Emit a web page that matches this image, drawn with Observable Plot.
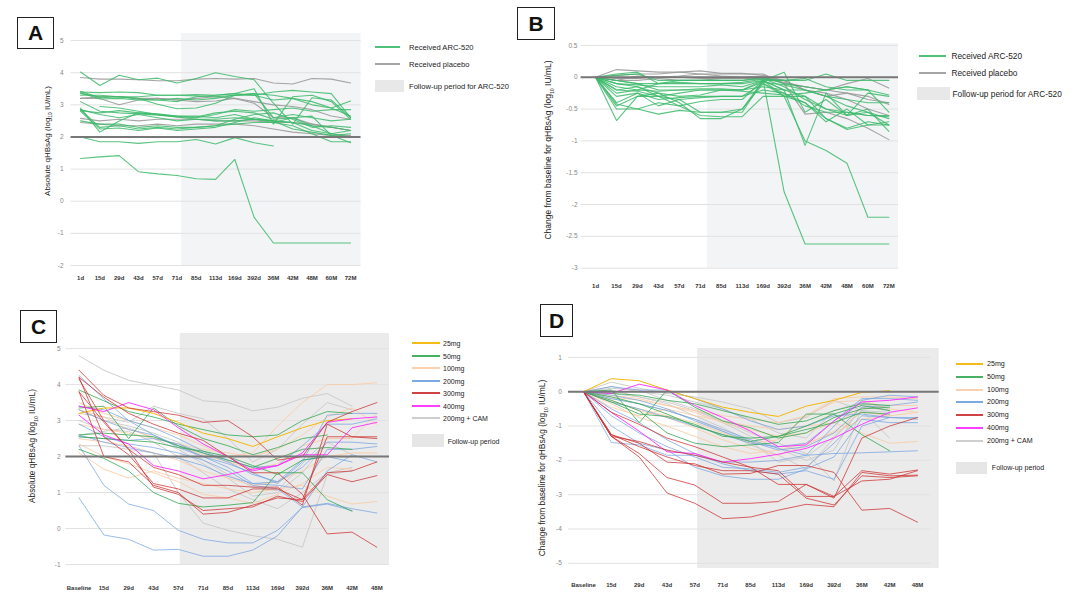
<!DOCTYPE html>
<html><head><meta charset="utf-8">
<script src="https://cdn.jsdelivr.net/npm/d3@7"></script>
<script src="https://cdn.jsdelivr.net/npm/@observablehq/plot@0.6"></script>
<style>
body{margin:0;background:#fff;font-family:"Liberation Sans",Arial,sans-serif;}
#root{position:relative;width:1080px;height:601px;overflow:hidden;background:#fff;}
.lbl{position:absolute;border:1.5px solid #222;font-weight:bold;font-size:21px;display:flex;align-items:center;justify-content:center;box-sizing:border-box;color:#111;}
.ytitle{position:absolute;transform:translate(-50%,-50%) rotate(-90deg);white-space:nowrap;color:#222;}
.ytitle sub{font-size:0.6em;}
.leg{position:absolute;white-space:nowrap;color:#222;transform:translateY(-50%);}
.legline{position:absolute;height:2px;}
.legbox{position:absolute;}
</style></head><body><div id="root"></div><script>
// ---------- categories / tick labels ----------
const timesAB = ["1d","15d","29d","43d","57d","71d","85d","113d","169d","392d","36M","42M","48M","60M","72M"];
const timesCD = ["Baseline","15d","29d","43d","57d","71d","85d","113d","169d","392d","36M","42M","48M"];
const yTicksA = [5,4,3,2,1,0,-1,-2];
const yTicksB = [0.5,0,-0.5,-1,-1.5,-2,-2.5,-3];
const yTicksC = [5,4,3,2,1,0,-1];
const yTicksD = [1,0,-1,-2,-3,-4,-5];
const groupsAB = ["Received ARC-520","Received placebo"];
const doses = ["25mg","50mg","100mg","200mg","300mg","400mg","200mg + CAM"];

// ---------- A: absolute qHBsAg ----------
const aArc = [
 [4.02,3.6,3.92,3.78,3.83,3.68,3.82,4.0,3.88,3.78,3.05,2.4,3.22,3.15,2.6],
 [3.4,3.38,3.4,3.38,3.3,3.3,3.32,3.3,3.35,3.3,3.4,3.45,3.4,3.35,2.6],
 [3.42,3.22,3.25,3.18,3.15,3.1,3.25,3.3,3.35,3.5,2.4,3.25,3.3,3.1,2.55],
 [3.35,3.25,3.25,3.2,3.02,2.88,2.9,3.05,3.3,3.35,3.3,3.2,3.0,2.9,3.12],
 [3.1,2.8,2.75,2.72,2.68,2.62,2.62,2.75,2.8,2.75,2.55,2.6,2.35,2.1,2.2],
 [2.9,2.15,2.5,2.75,2.72,2.65,2.6,2.7,2.85,2.8,2.85,2.9,2.8,2.85,2.85],
 [2.85,2.3,2.35,2.25,2.3,2.25,2.3,2.35,2.55,2.7,2.75,2.55,2.3,2.35,2.3],
 [2.8,2.25,2.28,2.2,2.28,2.2,2.25,2.3,2.45,2.6,2.5,2.25,2.15,2.05,2.1],
 [2.0,1.85,1.85,1.8,1.85,1.85,1.92,1.78,1.98,1.82,1.72,null,null,null,null],
 [1.33,1.38,1.42,0.92,0.85,0.8,0.7,0.68,1.3,-0.5,-1.3,-1.3,-1.3,-1.3,-1.3],
 [null,2.95,2.9,2.8,2.7,2.65,2.65,2.6,2.7,2.55,2.5,2.45,2.35,2.3,2.2],
 [2.82,2.75,2.82,2.75,2.7,2.62,2.55,2.5,2.5,2.55,2.45,2.6,2.65,2.05,1.82],
 [2.5,2.4,2.4,2.3,2.35,2.3,2.3,2.35,2.4,2.45,2.45,2.35,2.1,1.85,1.85],
 [3.3,3.3,3.25,3.25,3.3,3.3,3.28,3.25,3.3,3.3,3.15,3.2,3.1,2.9,2.65],
 [3.38,3.18,3.2,3.15,3.15,3.2,3.15,3.2,3.3,3.35,2.6,2.7,2.6,2.5,2.55],
 [2.85,2.7,2.6,2.7,2.6,2.5,2.55,2.55,2.6,2.55,2.5,2.45,2.2,2.1,2.0]
];
const aPlacebo = [
 [3.85,3.8,3.8,3.78,3.75,3.75,3.8,3.82,3.8,3.82,3.68,3.65,3.82,3.8,3.68],
 [3.2,3.2,3.0,3.15,3.2,3.15,3.1,3.12,3.2,3.1,3.0,2.95,2.85,2.65,2.55],
 [3.2,3.25,3.25,3.2,3.2,3.15,3.2,3.25,3.2,3.05,2.6,2.6,2.4,2.3,2.2],
 [2.58,2.5,2.55,2.5,2.55,2.55,2.55,2.5,2.5,2.5,2.45,2.45,2.4,2.3,2.2],
 [2.45,2.4,2.35,2.35,2.4,2.35,2.4,2.4,2.4,2.35,2.25,2.15,2.1,2.05,2.05]
];

// ---------- B: change from baseline ----------
const bArc = [
 [0,-0.4,-0.25,-0.45,-0.35,-0.55,-0.55,-0.55,-0.05,-1.8,-2.62,-2.62,-2.62,-2.62,-2.62],
 [0,-0.05,-0.1,-0.2,-0.2,-0.2,-0.2,-0.2,-0.05,-0.3,-1.0,-1.15,-1.35,-2.2,-2.2],
 [0,-0.68,-0.3,-0.25,-0.4,-0.65,-0.65,-0.5,-0.05,-0.2,-1.07,-0.25,-0.6,-0.55,-0.75],
 [0,-0.5,-0.5,-0.58,-0.52,-0.55,-0.55,-0.5,-0.1,-0.25,-0.4,-0.7,-0.5,-0.75,-0.7],
 [0,-0.45,-0.3,-0.3,-0.45,-0.38,-0.35,-0.35,-0.05,0.08,-0.55,-0.35,-0.6,-0.5,-0.85],
 [0,-0.15,-0.2,-0.1,-0.1,-0.1,-0.1,-0.1,-0.05,-0.05,-0.05,0.05,-0.05,-0.05,-0.05],
 [0,0.05,0.08,-0.1,-0.05,-0.05,-0.05,-0.05,0,-0.1,-0.15,-0.2,-0.15,-0.2,-0.28],
 [0,-0.2,-0.15,-0.3,-0.35,-0.32,-0.3,-0.3,-0.1,-0.3,-0.3,-0.65,-0.8,-0.7,-0.75],
 [0,-0.25,-0.2,-0.22,-0.2,-0.18,-0.18,-0.2,-0.08,-0.12,-0.2,-0.3,-0.45,-0.55,-0.65],
 [0,-0.1,-0.12,-0.15,-0.15,-0.15,-0.12,-0.15,-0.05,-0.2,-0.3,-0.5,-0.55,-0.6,-0.6],
 [0,0.03,0.05,-0.05,-0.05,-0.05,-0.05,-0.05,-0.02,-0.15,-0.35,-0.5,-0.6,-0.25,-0.3],
 [0,-0.05,-0.1,-0.1,-0.08,-0.1,-0.1,-0.08,-0.03,-0.05,-0.02,-0.15,-0.2,-0.2,-0.55],
 [0,-0.3,-0.25,-0.35,-0.32,-0.3,-0.3,-0.3,-0.2,-0.25,-0.45,-0.55,-0.55,-0.6,-0.62],
 [0,-0.2,-0.22,-0.3,-0.25,-0.2,-0.2,-0.2,-0.15,-0.2,-0.2,-0.3,-0.35,-0.4,-0.4],
 [0,-0.42,-0.5,-0.4,-0.45,-0.6,-0.62,-0.62,-0.3,-0.3,-0.4,-0.65,-0.82,-0.75,-0.75],
 [0,-0.1,-0.15,-0.25,-0.3,-0.28,-0.2,-0.22,-0.25,-0.28,-0.25,-0.2,-0.15,-0.2,null]
];
const bPlacebo = [
 [0,0.12,0.1,0.08,0.08,0.05,0.05,0.05,0.05,-0.1,-0.15,-0.2,-0.1,-0.02,-0.17],
 [0,-0.05,0.02,0,0.02,0.05,0.02,0,0.02,-0.1,-0.58,-0.55,-0.65,-0.8,-0.98],
 [0,-0.02,-0.02,0,0,-0.02,-0.02,-0.02,-0.03,-0.08,-0.15,-0.2,-0.25,-0.35,-0.4],
 [0,0.03,0.05,0.05,0.08,0.1,0.06,0.06,0.03,-0.05,-0.2,-0.3,-0.25,-0.3,-0.43],
 [0,-0.05,-0.05,-0.02,-0.05,-0.05,-0.02,-0.02,-0.02,-0.05,-0.2,-0.25,-0.35,-0.5,-0.6]
];

// ---------- C: absolute qHBsAg by dose ----------
const c25 = [[3.2,3.35,3.35,3.2,2.95,2.65,2.5,2.28,2.55,2.8,3.0,3.05,null]];
const c50 = [
 [3.85,3.55,3.25,3.1,2.9,2.75,2.6,2.55,2.6,3.0,3.25,3.2,null],
 [3.35,3.4,2.5,3.35,2.85,2.5,2.3,2.05,2.25,2.5,2.6,null,null],
 [2.6,2.65,2.6,2.55,2.3,2.1,1.9,1.7,1.95,2.2,2.25,2.2,null],
 [2.2,1.95,1.6,1.0,0.7,0.6,0.65,0.72,1.55,1.55,0.8,0.48,null],
 [2.55,2.5,2.45,2.4,2.25,2.15,2.0,1.75,1.5,1.9,2.0,2.0,null]
];
const c100 = [
 [3.5,3.2,3.0,2.8,2.6,2.3,2.0,2.1,2.85,3.5,4.0,4.0,4.05],
 [2.9,2.75,2.65,2.5,2.35,2.2,2.1,2.0,2.2,2.6,3.1,3.35,2.9],
 [2.1,1.65,1.4,1.6,1.4,1.25,1.1,1.0,1.1,1.2,0.9,0.68,0.75],
 [2.5,2.4,2.3,2.1,1.9,1.6,1.4,1.2,1.3,1.6,2.0,2.1,2.1],
 [3.3,3.1,2.75,2.55,2.3,2.05,1.85,1.65,1.8,2.3,2.5,2.5,3.2],
 [2.35,2.0,1.8,1.55,1.3,0.95,0.85,0.7,0.95,1.25,1.7,1.65,null]
];
const c200 = [
 [0.85,-0.18,-0.3,-0.6,-0.58,-0.77,-0.77,-0.6,-0.2,0.6,0.7,0.55,0.43],
 [2.3,1.2,0.68,0.5,-0.05,-0.3,-0.4,-0.4,-0.05,0.58,0.68,0.5,null],
 [4.25,3.6,3.0,2.6,2.3,2.0,1.7,1.25,1.3,1.7,2.4,2.4,2.35],
 [3.3,3.0,2.75,2.6,2.25,2.0,1.8,1.55,1.25,1.85,3.15,3.2,3.2],
 [2.9,2.55,2.35,2.25,2.1,1.9,1.6,1.2,1.1,0.6,1.6,2.05,1.85],
 [2.6,2.4,2.25,2.1,1.95,1.75,1.45,1.25,1.2,1.1,2.2,2.2,2.28],
 [3.4,3.3,3.0,2.8,2.5,2.15,1.9,1.7,1.75,2.3,2.9,2.9,3.05],
 [2.55,2.5,2.45,2.5,2.35,2.1,1.85,1.5,1.3,1.9,2.0,1.85,null]
];
const c300 = [
 [4.4,3.7,3.35,3.25,3.15,2.95,3.0,2.55,1.9,2.0,2.95,3.25,3.5],
 [4.2,3.65,3.2,2.9,2.65,2.45,2.0,1.55,1.55,0.95,-0.15,-0.1,-0.52],
 [4.2,2.55,2.05,1.25,1.1,0.85,0.85,1.1,1.1,0.8,2.55,2.55,2.55],
 [3.8,2.95,2.2,1.15,0.95,0.5,0.55,0.6,0.9,0.75,1.5,1.3,1.47],
 [3.8,2.0,1.85,1.2,1.0,0.4,0.45,0.65,0.85,0.8,1.55,1.6,1.85],
 [4.15,3.0,2.2,1.7,1.5,1.2,1.2,1.15,1.15,0.65,2.9,2.55,2.5]
];
const c400 = [
 [3.4,3.25,3.5,3.3,2.8,2.35,2.0,1.6,1.75,2.1,2.95,3.05,3.1],
 [3.15,2.6,2.35,1.75,1.6,1.38,1.5,1.65,1.75,2.05,2.05,2.8,2.95]
];
const cCam = [
 [4.8,4.4,4.12,3.98,3.85,3.55,3.5,3.27,3.37,3.62,3.75,3.4,null],
 [3.2,3.1,2.95,3.4,3.2,3.05,2.5,1.85,2.2,2.9,3.5,3.3,null],
 [2.3,2.3,2.2,2.1,1.0,0.15,-0.05,-0.2,-0.3,-0.52,1.5,1.6,null],
 [3.0,2.75,2.7,2.4,2.0,1.55,1.1,0.8,0.55,1.0,1.55,1.7,null],
 [3.3,3.0,2.85,2.65,2.4,1.9,1.5,1.15,1.05,1.8,2.5,2.5,null],
 [2.6,2.7,2.8,2.5,2.2,1.8,1.4,0.9,1.0,1.55,2.4,2.05,null]
];

// ---------- D: change from baseline by dose ----------
const d25 = [[0,0.38,0.32,0.05,-0.2,-0.45,-0.6,-0.72,-0.42,-0.25,-0.02,0.03,null]];
const d50 = [
 [0,-0.3,-0.65,-0.72,-0.95,-1.3,-1.35,-1.3,-1.1,-0.9,-0.6,-0.65,null],
 [0,0.05,-0.9,0.05,-0.45,-0.85,-1.05,-1.35,-1.2,-0.75,-0.5,-0.45,null],
 [0,-0.05,-0.1,-0.25,-0.35,-0.55,-0.75,-0.95,-0.85,-0.55,-0.35,-0.4,null],
 [0,-0.25,-0.55,-1.2,-1.5,-1.6,-1.55,-1.48,-0.65,-0.65,-1.25,-1.72,null],
 [0,-0.15,-0.35,-0.65,-1.0,-1.25,-1.45,-1.3,-1.0,-0.65,-0.4,-0.55,null]
];
const d100 = [
 [0,-0.3,-0.5,-0.7,-0.9,-1.2,-1.5,-1.4,-0.7,-0.2,-0.15,-0.15,-0.2],
 [0,-0.15,-0.25,-0.4,-0.55,-0.7,-0.8,-0.9,-0.7,-0.3,-0.25,-0.5,-0.6],
 [0,-0.45,-0.7,-0.5,-0.7,-0.85,-1.0,-1.1,-1.0,-0.9,-1.2,-1.5,-1.45],
 [0,-0.1,-0.2,-0.4,-0.6,-0.9,-1.1,-1.3,-1.2,-0.9,-0.5,-0.4,-0.4],
 [0,-0.35,-0.75,-1.0,-1.3,-1.6,-1.8,-1.7,-1.5,-1.2,-0.8,-0.7,-0.6],
 [0,-0.25,-0.55,-0.75,-1.05,-1.4,-1.65,-1.85,-1.55,-1.15,-0.6,-0.7,null]
];
const d200 = [
 [0,-1.48,-1.55,-1.85,-1.85,-2.05,-2.05,-2.0,-1.85,-1.8,-1.78,-1.75,-1.72],
 [0,-1.0,-1.5,-1.7,-2.2,-2.45,-2.55,-2.55,-2.25,-1.9,-0.8,-0.9,-0.9],
 [0,-0.5,-0.9,-1.4,-1.8,-2.1,-2.3,-2.4,-2.3,-2.55,-1.0,-0.75,-0.75],
 [0,-0.2,-0.35,-0.55,-0.8,-1.1,-1.4,-1.65,-1.85,-1.0,-0.25,-0.1,-0.15],
 [0,-0.3,-0.5,-0.75,-1.0,-1.25,-1.5,-1.6,-1.5,-0.85,-0.2,-0.2,-0.25],
 [0,0.15,0.05,0.05,-0.2,-0.5,-0.85,-1.1,-1.0,-0.7,-0.65,-0.75,-0.8],
 [0,-0.7,-1.2,-1.6,-1.9,-2.2,-2.25,-2.35,-2.2,-1.5,-0.7,-0.75,null],
 [0,-0.1,-0.25,-0.5,-0.85,-1.15,-1.45,-1.7,-1.6,-1.2,-0.45,-0.4,-0.3]
];
const d300 = [
 [0,-1.25,-1.5,-2.05,-2.1,-2.4,-2.38,-2.15,-2.15,-2.35,-3.45,-3.4,-3.8],
 [0,-1.3,-1.8,-2.5,-2.72,-3.25,-3.25,-3.2,-2.7,-3.05,-2.6,-2.55,-2.3],
 [0,-1.3,-1.9,-2.95,-3.25,-3.7,-3.65,-3.45,-3.28,-3.35,-2.35,-2.45,-2.43],
 [0,-1.3,-1.45,-1.7,-1.85,-2.05,-2.2,-2.7,-2.7,-3.1,-1.35,-1.0,-0.75],
 [0,-0.6,-0.95,-1.35,-1.6,-1.9,-2.2,-2.3,-3.05,-3.05,-2.3,-2.4,-2.28],
 [0,-1.25,-1.6,-1.9,-2.15,-2.3,-2.3,-2.4,-3.1,-3.3,-2.45,-2.5,-2.45]
];
const d400 = [
 [0,-0.05,0.22,0.05,-0.4,-0.75,-1.15,-1.6,-1.55,-0.85,-0.3,-0.25,-0.15],
 [0,-0.6,-1.15,-1.75,-1.8,-2.05,-1.95,-1.82,-1.65,-1.35,-0.95,-0.6,-0.47]
];
const dCam = [
 [0,0.28,0.1,-0.05,-0.15,-0.3,-0.5,-0.9,-0.75,-0.25,-0.55,-1.35,null],
 [0,0.15,0.0,-0.1,-0.3,-0.5,-0.8,-1.2,-1.35,-0.55,-0.3,-0.5,null],
 [0,-0.05,-0.15,-0.3,-0.55,-0.85,-1.2,-1.5,-1.8,-2.6,-0.45,-0.55,null],
 [0,0.05,-0.15,-0.35,-0.7,-1.05,-1.45,-2.05,-1.9,-1.3,-0.55,-0.6,null],
 [0,-0.2,-0.35,-0.55,-0.8,-1.15,-1.55,-1.85,-2.25,-1.35,-0.55,-0.7,null],
 [0,0.1,0.05,-0.25,-0.5,-0.9,-1.3,-1.65,-2.0,-1.7,-0.35,-0.55,null]
];

// ---------- styles ----------
const colorArc = "#3cba6a", colorPlacebo = "#9b9b9b";
const doseColors = ["#f4b400","#34a853","#f9cba6","#6fa0e0","#cc2f2f","#ff2bff","#c9c9c9"];
const doseOpacity = [0.95,0.8,0.85,0.7,0.75,0.9,0.9];
const FONT = '"Liberation Sans", Arial, sans-serif';
const root = document.getElementById("root");

function rowsOf(list) {
  const out = [];
  list.forEach((vals, s) => vals.forEach((v, i) => out.push({s, i, v: v == null ? NaN : v})));
  return out;
}

function drawPanel(c) {
  const lineMarks = c.series.map(g => Plot.line(rowsOf(g.list), {
    x: "i", y: "v", z: "s", stroke: g.color, strokeOpacity: g.opacity, strokeWidth: c.lw
  }));
  const svg = Plot.plot({
    width: c.w, height: c.h,
    marginLeft: c.m[0], marginRight: c.m[1], marginTop: c.m[2], marginBottom: c.m[3],
    x: {domain: c.xdom},
    y: {domain: c.ydom},
    style: {fontFamily: FONT, background: "transparent", overflow: "visible"},
    marks: [
      Plot.rect([{x1: c.shade[0], x2: c.shade[1], y1: c.ydom[0], y2: c.ydom[1]}],
        {x1: "x1", x2: "x2", y1: "y1", y2: "y2", fill: c.shadeFill}),
      Plot.ruleY(c.yticks, {x1: c.grid[0], x2: c.grid[1], stroke: "#e2e2e2", strokeWidth: 1}),
      ...lineMarks,
      Plot.ruleY([c.ref], {x1: c.refX[0], x2: c.refX[1], stroke: "#777", strokeWidth: 2}),
      Plot.axisX(d3.range(c.labels.length), {tickFormat: i => c.labels[i], tickSize: 0,
        tickPadding: c.padX, fontSize: 6, fill: "#333", fontWeight: 600, label: null}),
      Plot.axisY(c.yticks, {tickFormat: d => String(d), tickSize: 0, tickPadding: c.padY,
        fontSize: 6.5, fill: "#888", label: null})
    ]
  });
  svg.style.position = "absolute";
  svg.style.left = c.left + "px";
  svg.style.top = c.top + "px";
  root.appendChild(svg);
}

function addHTML(html) { root.insertAdjacentHTML("beforeend", html); }
function labelBox(t, x, y, w, h) { addHTML(`<div class="lbl" style="left:${x}px;top:${y}px;width:${w}px;height:${h}px">${t}</div>`); }
function yTitle(txt, x, y, fs) { addHTML(`<div class="ytitle" style="left:${x}px;top:${y}px;font-size:${fs}px">${txt}</div>`); }
function legLine(x1, x2, y, color, label, tx, fs) {
  addHTML(`<div class="legline" style="left:${Math.round(x1)}px;top:${Math.round(y - 1)}px;width:${Math.round(x2 - x1)}px;background:${color};opacity:0.9"></div>`);
  addHTML(`<div class="leg" style="left:${tx}px;top:${y}px;font-size:${fs}px">${label}</div>`);
}
function legBox(x1, x2, y1, y2, fill, label, tx, fs) {
  addHTML(`<div class="legbox" style="left:${x1}px;top:${y1}px;width:${x2 - x1}px;height:${y2 - y1}px;background:${fill}"></div>`);
  addHTML(`<div class="leg" style="left:${tx}px;top:${(y1 + y2) / 2}px;font-size:${fs}px">${label}</div>`);
}

// Panel A
drawPanel({left: 0, top: 0, w: 370, h: 300, m: [70.6, 9.5, 33, 35], lw: 1.1,
  xdom: [-0.49, 14.54], ydom: [-2, 5.22], shade: [5.24, 14.54], shadeFill: "#f3f4f6",
  grid: [-0.49, 14.54], yticks: yTicksA, ref: 2, refX: [-0.49, 14.54], labels: timesAB, padX: 10.5, padY: 7.5,
  series: [{list: aPlacebo, color: colorPlacebo, opacity: 0.9}, {list: aArc, color: colorArc, opacity: 0.85}]});
// Panel B
drawPanel({left: 540, top: 0, w: 370, h: 300, m: [40.6, 12, 43, 32.3], lw: 1.1,
  xdom: [-0.69, 14.46], ydom: [-3, 0.53], shade: [5.34, 14.46], shadeFill: "#f3f4f6",
  grid: [-0.69, 14.46], yticks: yTicksB, ref: 0, refX: [-0.69, 14.46], labels: timesAB, padX: 16, padY: 3.6,
  series: [{list: bPlacebo, color: colorPlacebo, opacity: 0.9}, {list: bArc, color: colorArc, opacity: 0.85}]});
// Panel C
const cSeries = [[cCam,6],[c100,2],[c200,3],[c50,1],[c25,0],[c400,5],[c300,4]]
  .map(([list, k]) => ({list, color: doseColors[k], opacity: doseOpacity[k]}));
drawPanel({left: 0, top: 300, w: 400, h: 301, m: [65.4, 11, 33, 37], lw: 1,
  xdom: [-0.53, 12.51], ydom: [-1, 5.42], shade: [4.08, 12.51], shadeFill: "#ebebeb",
  grid: [-0.53, 12.51], yticks: yTicksC, ref: 2, refX: [-0.53, 12.51], labels: timesCD, padX: 21, padY: 5.4,
  series: cSeries});
// Panel D
const dSeries = [[dCam,6],[d100,2],[d200,3],[d50,1],[d25,0],[d400,5],[d300,4]]
  .map(([list, k]) => ({list, color: doseColors[k], opacity: doseOpacity[k]}));
drawPanel({left: 540, top: 300, w: 410, h: 301, m: [28, 11.3, 48, 33], lw: 1,
  xdom: [-0.54, 12.78], ydom: [-5.15, 1.26], shade: [4.1, 12.78], shadeFill: "#ebebeb",
  grid: [-0.54, 12.5], yticks: yTicksD, ref: 0, refX: [-0.54, 12.78], labels: timesCD, padX: 14, padY: 6.6,
  series: dSeries});

// Panel labels
labelBox("A", 17, 17, 37, 32);
labelBox("B", 517, 7, 38, 33);
labelBox("C", 20, 310, 37, 33);
labelBox("D", 540, 304, 33, 33);

// Axis titles
yTitle("Absolute qHBsAg (log<sub>10</sub> IU/mL)", 47.5, 141, 8);
yTitle("Change from baseline for qHBsAg (log<sub>10</sub> IU/mL)", 549, 150, 8.5);
yTitle("Absolute qHBsAg (log<sub>10</sub> IU/mL)", 33.4, 446, 8.3);
yTitle("Change from baseline for qHBsAg (log<sub>10</sub> IU/mL)", 543.4, 468, 8.4);

// Legends A & B
legLine(375, 399.5, 47, colorArc, groupsAB[0], 409, 7.6);
legLine(375, 399.5, 64, colorPlacebo, groupsAB[1], 409, 7.6);
legBox(375, 404, 80, 92, "#e8e8e8", "Follow-up period for ARC-520", 409, 7.6);
legLine(919, 946, 56, colorArc, groupsAB[0], 951.5, 8.3);
legLine(919, 946, 73, colorPlacebo, groupsAB[1], 951.5, 8.3);
legBox(917, 950, 87, 100, "#e8e8e8", "Follow-up period for ARC-520", 952.5, 8.3);

// Legends C & D
doses.forEach((d, k) => {
  legLine(411.5, 439, 343 + k * 12.5, doseColors[k], d, 443, 7);
  legLine(955.6, 982.5, 364 + k * 12.8, doseColors[k], d, 987, 7.1);
});
legBox(411.5, 443.5, 434, 447, "#e6e6e6", "Follow-up period", 447.7, 7);
legBox(955.6, 987, 462, 474, "#e6e6e6", "Follow-up period", 991.8, 7.1);
</script></body></html>
